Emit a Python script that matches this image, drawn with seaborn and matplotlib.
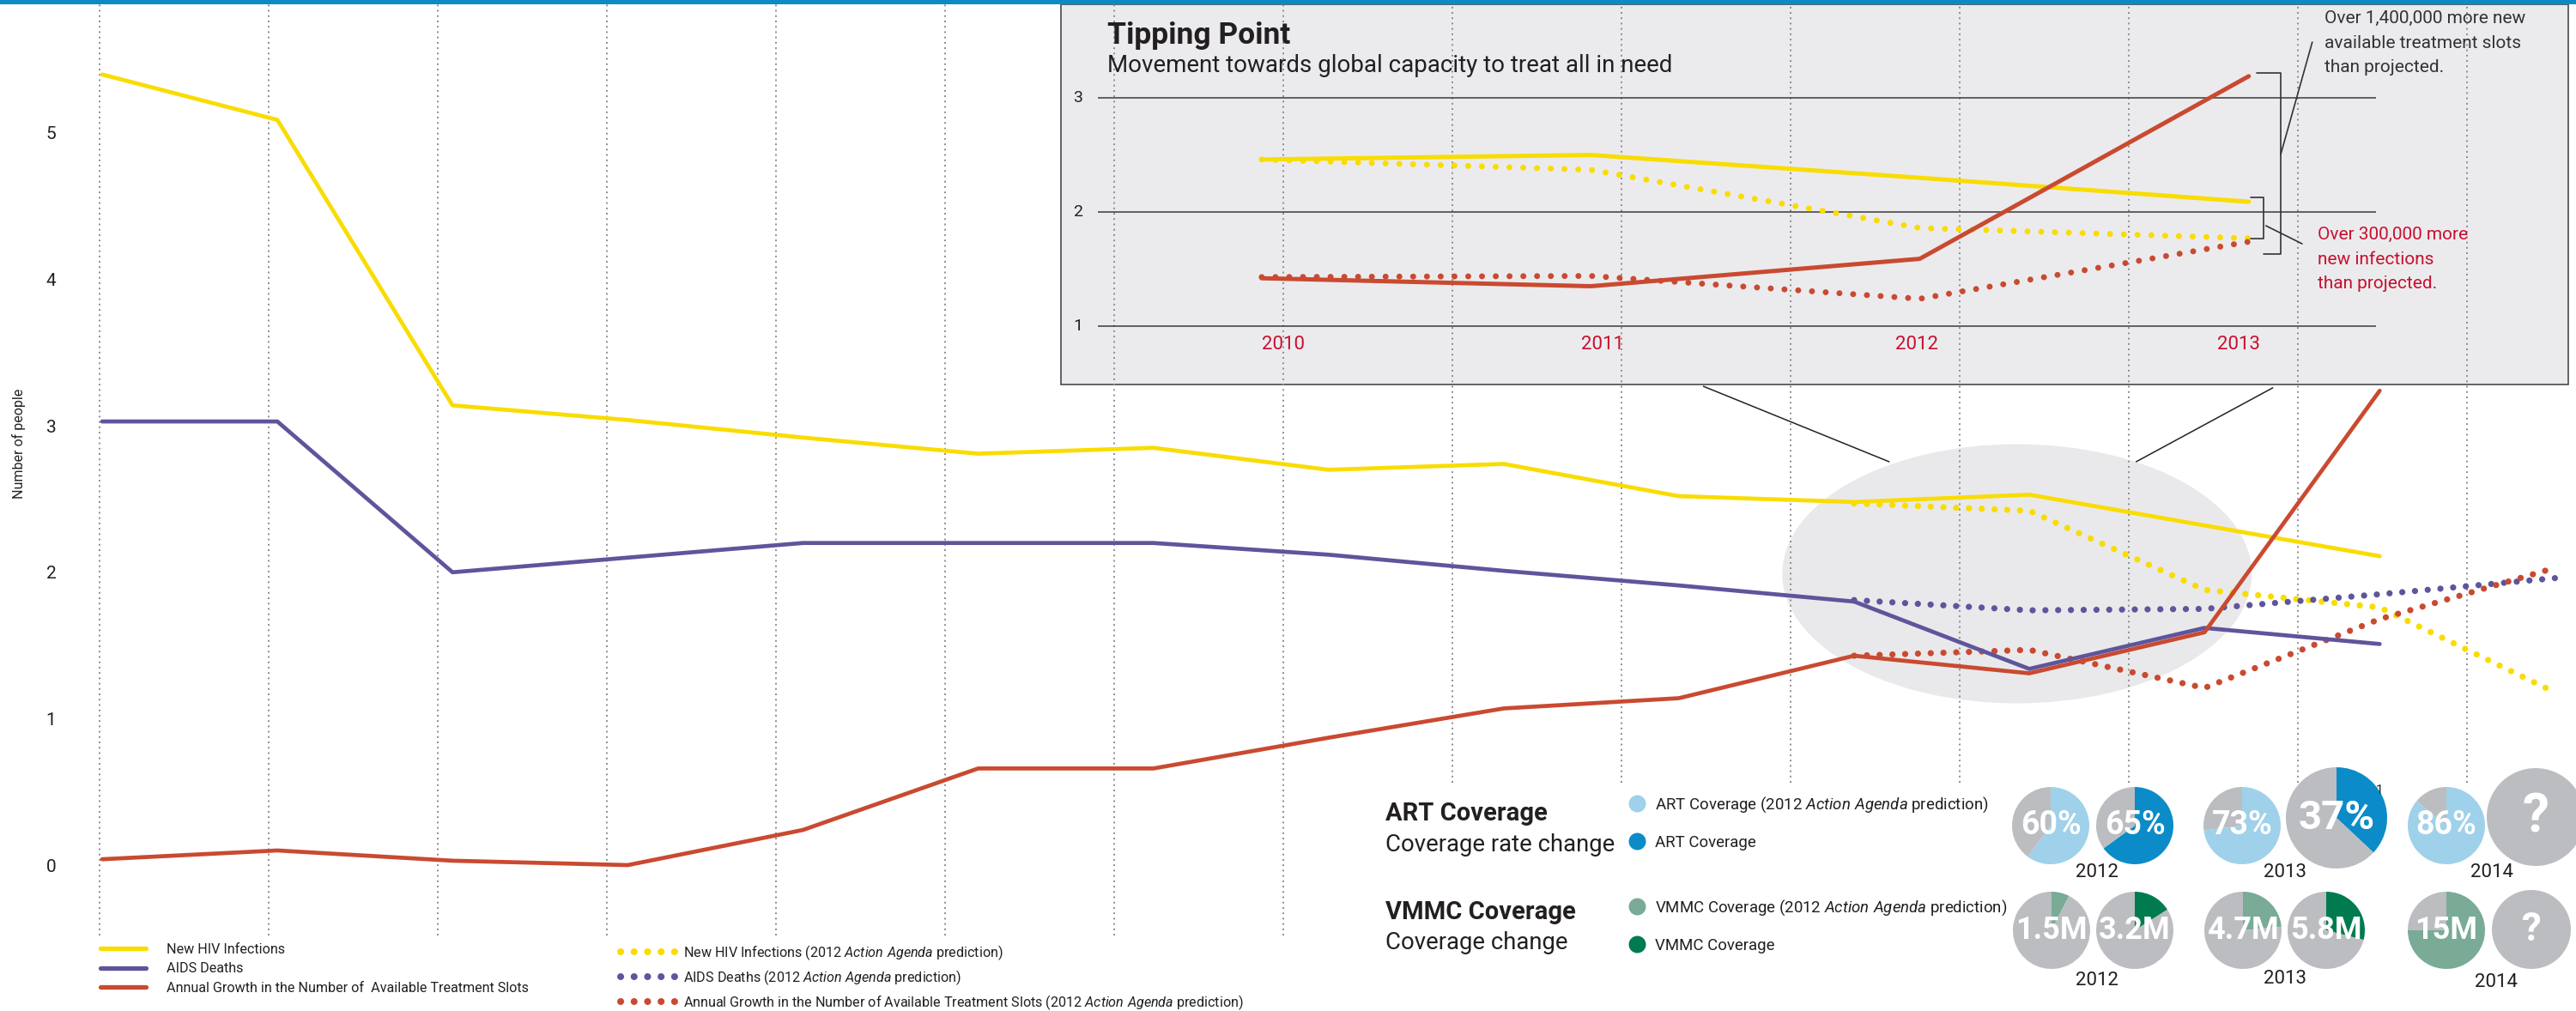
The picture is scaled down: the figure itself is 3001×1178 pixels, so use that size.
import numpy as np
import pandas as pd
import matplotlib
matplotlib.use("Agg")
import matplotlib.pyplot as plt
import seaborn as sns
from matplotlib.patches import Rectangle, Ellipse
from matplotlib.lines import Line2D

# ---------------- data ----------------
years = list(range(2000, 2014))
new_hiv = [5.40, 5.09, 3.14, 3.04, 2.92, 2.81, 2.85, 2.70, 2.74, 2.52, 2.48, 2.53, 2.32, 2.11]
aids_deaths = [3.03, 3.03, 2.00, 2.10, 2.20, 2.20, 2.20, 2.12, 2.01, 1.91, 1.80, 1.34, 1.62, 1.51]
treatment_slots = [0.04, 0.10, 0.03, 0.00, 0.24, 0.66, 0.66, 0.87, 1.07, 1.14, 1.43, 1.31, 1.59, 3.24]

pred_years = [2010, 2011, 2012, 2013, 2014]
new_hiv_pred = [2.47, 2.42, 1.88, 1.76, 1.18]
aids_deaths_pred = [1.81, 1.74, 1.75, 1.85, 1.96]
treatment_slots_pred = [1.43, 1.47, 1.21, 1.68, 2.03]

y_ticks = [0, 1, 2, 3, 4, 5]

inset_years = [2010, 2011, 2012, 2013]
inset_new_hiv = [2.46, 2.50, 2.30, 2.09]
inset_slots = [1.42, 1.35, 1.59, 3.19]
inset_new_hiv_pred = [2.46, 2.37, 1.86, 1.77]
inset_slots_pred = [1.43, 1.44, 1.24, 1.74]
inset_ticks = [1, 2, 3]
inset_year_labels = ["2010", "2011", "2012", "2013"]

art_labels = ["60%", "65%", "73%", "37%", "86%", "?"]
art_values = [60, 65, 73, 37, 86, 0]          # percent
vmmc_labels = ["1.5M", "3.2M", "4.7M", "5.8M", "15M", "?"]
vmmc_values = [1.5, 3.2, 4.7, 5.8, 15, 0]      # millions of a 20M target
vmmc_target = 20
pie_years = ["2012", "2013", "2014"]

legend_solid = ["New HIV Infections", "AIDS Deaths",
                "Annual Growth in the Number of  Available Treatment Slots"]
AA = r"$\mathit{Action\ Agenda}$"
legend_pred = [f"New HIV Infections (2012 {AA} prediction)",
               f"AIDS Deaths (2012 {AA} prediction)",
               f"Annual Growth in the Number of Available Treatment Slots (2012 {AA} prediction)"]

# ---------------- style ----------------
YEL = "#f9dc00"
PUR = "#5e559c"
RED = "#c94a30"
CRIMSON = "#c8102e"
GRAY_PIE = "#bcbdc1"
ART_PRED = "#9fd1ea"
ART_ACT = "#0b8cc8"
VMMC_PRED = "#79ab96"
VMMC_ACT = "#007b4f"
TXT = "#231f20"

sns.set_theme(style="white")
plt.rcParams["font.family"] = ["Roboto", "DejaVu Sans"]
plt.rcParams["mathtext.fontset"] = "custom"
plt.rcParams["mathtext.rm"] = "Roboto"
plt.rcParams["mathtext.it"] = "Roboto:italic"
plt.rcParams["mathtext.bf"] = "Roboto:bold"
plt.rcParams["text.color"] = TXT

W, H = 3001, 1178
def fx(x): return x / W
def fy(y): return 1 - y / H

fig = plt.figure(figsize=(W / 100, H / 100), dpi=100, facecolor="white")

# ---------------- main axes ----------------
ax = fig.add_axes([fx(100), fy(1095), (W - 100) / W, (1095 - 5) / H])
ax.set_xlim(2000 + (100 - 119) / 204.1, 2000 + (W - 119) / 204.1)
ax.set_ylim((1008 - 1095) / 170.6, (1008 - 5) / 170.6)
sns.despine(ax=ax, left=True, bottom=True)
ax.set_xticks([])
ax.set_yticks(y_ticks)
ax.set_yticklabels([str(t) for t in y_ticks], fontsize=15, color=TXT)
ax.tick_params(axis="y", length=0, pad=25)
ax.set_facecolor("none")

# inset background box (under the dotted grid)
ax.add_patch(Rectangle((fx(1236), fy(448)), (2992 - 1236) / W, (448 - 5) / H,
                       transform=fig.transFigure, facecolor="#ebebee",
                       edgecolor="#4a4a4a", lw=1.2, zorder=0.5, clip_on=False))
# highlight ellipse
ax.add_patch(Ellipse((2010.93, 1.99), 2.68, 1.77, facecolor="#e9e9eb",
                     edgecolor="none", zorder=0.6))

# decorative dotted verticals
grid_x = [1999.985 + 0.9652 * k for k in range(15)]
ymin = [(-0.481 if k < 8 else 0.563) for k in range(15)]
ax.vlines(grid_x, ymin, (1008 - 5) / 170.6, colors="#8c8c8c",
          linestyles=(0, (1.0, 2.2)), lw=1.4, zorder=1)

# connectors from inset to ellipse
ax.plot([2009.14, 2010.20], [3.27, 2.755], color="#222222", lw=1.1, zorder=2)
ax.plot([2012.39, 2011.61], [3.26, 2.755], color="#222222", lw=1.1, zorder=2)

dot = (0, (0.01, 2.05))
for yv, c in [(new_hiv_pred, YEL), (aids_deaths_pred, PUR), (treatment_slots_pred, RED)]:
    sns.lineplot(x=pred_years, y=yv, color=c, lw=5.2, linestyle=dot,
                 dash_capstyle="round", ax=ax, zorder=3)
for yv, c in [(new_hiv, YEL), (aids_deaths, PUR), (treatment_slots, RED)]:
    sns.lineplot(x=years, y=yv, color=c, lw=3.4, ax=ax, zorder=4)
ax.set_xlabel("")
ax.set_ylabel("")

fig.text(fx(22), fy(517), "Number of people", rotation=90, ha="center",
         va="center", fontsize=11.5, color=TXT)

# ---------------- legends (main) ----------------
h_solid = [Line2D([], [], color=c, lw=3.8) for c in (YEL, PUR, RED)]
h_pred = [Line2D([], [], color=c, lw=5.8, linestyle=(0, (0.01, 1.94)),
                 dash_capstyle="round") for c in (YEL, PUR, RED)]
fig.legend(h_solid, legend_solid, loc="upper left", bbox_to_anchor=(fx(117), fy(1099)),
           frameon=False, fontsize=11.6, handlelength=3.28, handletextpad=1.48,
           labelspacing=0.45, borderpad=0, borderaxespad=0)
fig.legend(h_pred, legend_pred, loc="upper left", bbox_to_anchor=(fx(723), fy(1099)),
           frameon=False, fontsize=11.6, handlelength=4.0, handletextpad=0.56,
           labelspacing=0.45, borderpad=0, borderaxespad=0)

# ---------------- inset ----------------
iax = fig.add_axes([fx(1236), fy(448), (2992 - 1236) / W, (448 - 5) / H])
iax.set_xlim(2009.390, 2013.971)
iax.set_ylim(0.489, 3.820)
iax.patch.set_alpha(0)
iax.hlines(inset_ticks, 2009.502, 2013.386, color="#3a3a3a", lw=1.1, zorder=1)
for t in inset_ticks:
    iax.text(2009.442, t, str(t), ha="center", va="center", fontsize=14, color=TXT)
label_x = [2010.065, 2011.035, 2011.99, 2012.97]
for xl, lab in zip(label_x, inset_year_labels):
    iax.text(xl, 0.842, lab, ha="center", va="center", fontsize=16, color=CRIMSON)

idot = (0, (0.01, 2.3))
sns.lineplot(x=inset_years, y=inset_new_hiv_pred, color=YEL, lw=5.0, linestyle=idot,
             dash_capstyle="round", ax=iax, zorder=2)
sns.lineplot(x=inset_years, y=inset_slots_pred, color=RED, lw=5.0, linestyle=idot,
             dash_capstyle="round", ax=iax, zorder=2)
sns.lineplot(x=inset_years, y=inset_new_hiv, color=YEL, lw=3.6, ax=iax, zorder=3)
sns.lineplot(x=inset_years, y=inset_slots, color=RED, lw=3.6, ax=iax, zorder=3)
iax.set_xlabel("")
iax.set_ylabel("")
iax.axis("off")

# brackets
bk = dict(color="#333333", lw=1.2, zorder=4)
iax.plot([2013.024, 2013.097, 2013.097, 2013.045], [3.218, 3.218, 1.632, 1.632], **bk)
iax.plot([2013.097, 2013.193], [2.504, 3.489], **bk)
iax.plot([2013.006, 2013.045, 2013.045, 2013.006], [2.128, 2.128, 1.767, 1.767], **bk)
iax.plot([2013.052, 2013.162], [1.880, 1.722], **bk)

fig.text(fx(1290), fy(42), "Tipping Point", fontsize=25.5, fontweight="bold",
         ha="left", va="center", color=TXT)
fig.text(fx(1290), fy(77), "Movement towards global capacity to treat all in need",
         fontsize=20, ha="left", va="center", color=TXT)
fig.text(fx(2708), fy(12), "Over 1,400,000 more new\navailable treatment slots\nthan projected.",
         fontsize=15, ha="left", va="top", linespacing=1.65, color="#333333")
fig.text(fx(2700), fy(264), "Over 300,000 more\nnew infections\nthan projected.",
         fontsize=15, ha="left", va="top", linespacing=1.65, color=CRIMSON)

# ---------------- coverage panel ----------------
fig.text(fx(1614), fy(948), "ART Coverage", fontsize=21, fontweight="bold",
         ha="left", va="center", color=TXT)
fig.text(fx(1614), fy(984), "Coverage rate change", fontsize=19.8,
         ha="left", va="center", color=TXT)
fig.text(fx(1614), fy(1063), "VMMC Coverage", fontsize=21, fontweight="bold",
         ha="left", va="center", color=TXT)
fig.text(fx(1614), fy(1099), "Coverage change", fontsize=19.8,
         ha="left", va="center", color=TXT)

def dot_handle(c):
    return Line2D([], [], marker="o", linestyle="none", color=c, markersize=14.4,
                  markeredgewidth=0)

fig.legend([dot_handle(ART_PRED), dot_handle(ART_ACT)],
           [f"ART Coverage (2012 {AA} prediction)", "ART Coverage"],
           loc="upper left", bbox_to_anchor=(fx(1897), fy(926)), frameon=False,
           fontsize=13.4, handlelength=1.07, handletextpad=0.59, labelspacing=1.3,
           borderpad=0, borderaxespad=0)
fig.legend([dot_handle(VMMC_PRED), dot_handle(VMMC_ACT)],
           [f"VMMC Coverage (2012 {AA} prediction)", "VMMC Coverage"],
           loc="upper left", bbox_to_anchor=(fx(1897), fy(1046)), frameon=False,
           fontsize=13.4, handlelength=1.07, handletextpad=0.59, labelspacing=1.3,
           borderpad=0, borderaxespad=0)

art_geom = [(2389, 962, 45), (2487, 962, 45), (2612, 962, 45),
            (2722, 953, 59), (2850, 962, 45), (2954, 952, 57)]
vmmc_geom = [(2390, 1084, 45), (2487, 1084, 45), (2613, 1084, 45),
             (2710, 1084, 45), (2850, 1084, 45), (2949, 1083, 46)]
art_colors = [ART_PRED, ART_ACT, ART_PRED, ART_ACT, ART_PRED, ART_ACT]
vmmc_colors = [VMMC_PRED, VMMC_ACT, VMMC_PRED, VMMC_ACT, VMMC_PRED, VMMC_ACT]
art_fs = [27, 27, 27, 34, 27, 45]
vmmc_fs = [26, 26, 26, 26, 26, 33]

def draw_pie(geom, value, total, color, label, fs):
    cx, cy, r = geom
    pax = fig.add_axes([(cx - r) / W, 1 - (cy + r) / H, 2 * r / W, 2 * r / H])
    if value > 0:
        pax.pie([value, total - value], colors=[color, GRAY_PIE], startangle=90,
                counterclock=False, radius=1, wedgeprops=dict(linewidth=0))
    else:
        pax.pie([1], colors=[GRAY_PIE], radius=1, wedgeprops=dict(linewidth=0))
    pax.set_xlim(-1, 1)
    pax.set_ylim(-1, 1)
    pax.axis("off")
    pax.text(0, 0, label, ha="center", va="center", color="white",
             fontsize=fs, fontweight="bold")

for g, v, c, l, f in zip(art_geom, art_values, art_colors, art_labels, art_fs):
    draw_pie(g, v, 100, c, l, f)
for g, v, c, l, f in zip(vmmc_geom, vmmc_values, vmmc_colors, vmmc_labels, vmmc_fs):
    draw_pie(g, v, vmmc_target, c, l, f)

fig.text(fx(2772), fy(921), "1", fontsize=11, color=TXT, ha="center", va="center")

for (x, y), lab in zip([(2443, 1017), (2662, 1016), (2903, 1017)], pie_years):
    fig.text(fx(x), fy(y), lab, fontsize=16, color=TXT, ha="center", va="center")
for (x, y), lab in zip([(2443, 1143), (2662, 1141), (2908, 1145)], pie_years):
    fig.text(fx(x), fy(y), lab, fontsize=16, color=TXT, ha="center", va="center")

# top blue rule
fig.add_artist(Rectangle((0, fy(5)), 1, 5 / H, transform=fig.transFigure,
                         facecolor="#0a8bc8", edgecolor="none", zorder=10))

fig.savefig("out.png", dpi=100, facecolor="white")
